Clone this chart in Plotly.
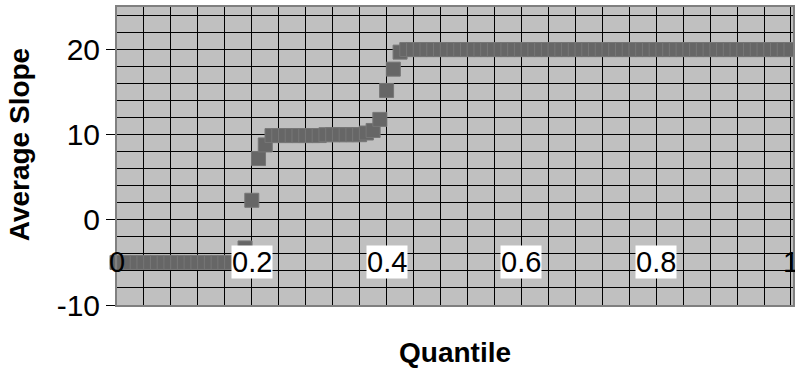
import plotly.graph_objects as go

# Quantile grid (steps of 0.01) and the average slope at each quantile
quantile = [round(i * 0.01, 2) for i in range(101)]
avg_slope = [
    -5, -5, -5, -5, -5, -5, -5, -5, -5, -5,
    -5, -5, -5, -5, -5, -5, -5, -5, -5, -3.3,
    2.3, 7.2, 8.8, 9.9, 9.9, 9.9, 9.9, 9.9, 9.9, 9.9,
    9.9, 10.0, 10.0, 10.0, 10.0, 10.0, 10.0, 10.2, 10.5, 11.8,
    15.2, 17.7, 19.7, 20, 20, 20, 20, 20, 20, 20,
    20, 20, 20, 20, 20, 20, 20, 20, 20, 20,
    20, 20, 20, 20, 20, 20, 20, 20, 20, 20,
    20, 20, 20, 20, 20, 20, 20, 20, 20, 20,
    20, 20, 20, 20, 20, 20, 20, 20, 20, 20,
    20, 20, 20, 20, 20, 20, 20, 20, 20, 20,
    20,
]

x_tick_vals = [0, 0.2, 0.4, 0.6, 0.8, 1]
x_tick_text = ["0", "0.2", "0.4", "0.6", "0.8", "1"]
x_label_level = -5
y_tick_vals = [-10, 0, 10, 20]
y_tick_text = ["-10", "0", "10", "20"]

FONT = "Liberation Sans, Arial, sans-serif"
W, H = 795, 376
L, R, T, B = 117, 0, 7, 71

fig = go.Figure()
fig.add_trace(go.Scatter(
    x=quantile, y=avg_slope, mode="markers",
    marker=dict(symbol="square", size=14, color="#666666",
                line=dict(color="#777777", width=1)),
    cliponaxis=False, showlegend=False,
))

# category labels sit inside the plot on the y = -5 line
for v, t in zip(x_tick_vals, x_tick_text):
    boxed = v not in (0, 1)
    fig.add_annotation(
        x=v, y=x_label_level, xref="x", yref="y", text=t, showarrow=False,
        font=dict(family=FONT, size=29, color="black"),
        bgcolor="white" if boxed else None, borderpad=0,
    )

# axis titles, placed in page pixels
fig.add_annotation(x=(19 - L) / (W - L - R), y=(H - B - 145) / (H - T - B),
                   xref="paper", yref="paper", text="<b>Average Slope</b>",
                   showarrow=False, textangle=-90, xanchor="center", yanchor="middle",
                   font=dict(family=FONT, size=28, color="black"))
fig.add_annotation(x=0.5, y=(H - B - 352) / (H - T - B), xref="paper", yref="paper",
                   text="<b>Quantile</b>", showarrow=False,
                   xanchor="center", yanchor="middle",
                   font=dict(family=FONT, size=28, color="black"))

fig.update_layout(
    width=W, height=H,
    margin=dict(l=L, r=R, t=T, b=B),
    paper_bgcolor="white", plot_bgcolor="#c0c0c0",
    xaxis=dict(range=[0, 1.003], showticklabels=False, ticks="",
               showgrid=True, gridcolor="black", gridwidth=1,
               tick0=0, dtick=0.04, zeroline=False,
               showline=True, linecolor="#808080", linewidth=2, mirror=True),
    yaxis=dict(range=[-10, 25], tickmode="array", tickvals=y_tick_vals, ticktext=y_tick_text,
               ticks="outside", ticklen=9, tickcolor="black", tickwidth=1,
               tickfont=dict(family=FONT, size=30, color="black"),
               showgrid=True, gridcolor="black", gridwidth=1, zeroline=False,
               minor=dict(dtick=2, tick0=0, showgrid=True, gridcolor="black", gridwidth=1),
               showline=True, linecolor="#808080", linewidth=2, mirror=True),
)

fig.write_html("out.html")
